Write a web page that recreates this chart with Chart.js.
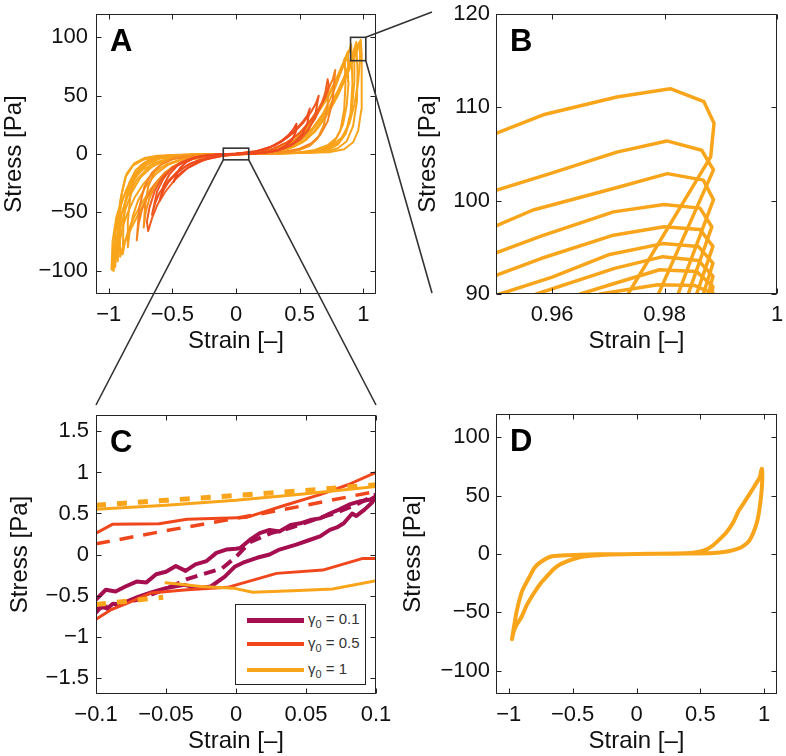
<!DOCTYPE html>
<html>
<head>
<meta charset="utf-8">
<script src="https://cdn.jsdelivr.net/npm/chart.js@4.4.0/dist/chart.umd.min.js"></script>
<style>
  html, body { margin: 0; padding: 0; background: #fff; }
  #fig { position: relative; width: 786px; height: 756px; font-family: 'Liberation Sans', Arial, Helvetica, sans-serif; }
  .panel { position: absolute; width: 393px; height: 378px; }
  #overlay { position: absolute; left: 0; top: 0; pointer-events: none; }
  #legendC { position: absolute; left: 235px; top: 604px; width: 129px; height: 79px; border: 1px solid #222; background: #fff; color: #333; font-size: 15px; }
  #legendC .row { position: absolute; left: 11px; height: 20px; display: flex; align-items: center; white-space: nowrap; }
  #legendC .swatch { width: 57px; margin-right: 4px; }
  #legendC sub { font-size: 11px; }
</style>
</head>
<body>
<div id="fig">
  <canvas id="panelA" class="panel" width="393" height="378" style="left:0;top:0"></canvas>
  <canvas id="panelB" class="panel" width="393" height="378" style="left:393px;top:0"></canvas>
  <canvas id="panelC" class="panel" width="393" height="378" style="left:0;top:378px"></canvas>
  <canvas id="panelD" class="panel" width="393" height="378" style="left:393px;top:378px"></canvas>
  <div id="legendC">
    <div class="row" style="top:5px"><div class="swatch" style="height:5px;background:#a50f4f"></div><span>γ<sub>0</sub> = 0.1</span></div>
    <div class="row" style="top:29px"><div class="swatch" style="height:3.5px;background:#f0461c"></div><span>γ<sub>0</sub> = 0.5</span></div>
    <div class="row" style="top:55px"><div class="swatch" style="height:4px;background:#f9a51b"></div><span>γ<sub>0</sub> = 1</span></div>
  </div>
  <canvas id="overlay" width="786" height="756"></canvas>
</div>
<script>
// ---- data: [strain, stress] pairs ----

// panel A: amplitude sweep, one closed loop per cycle (small -> large)
const loopA1 = [[-0.49,-24],[-0.47,-20],[-0.43,-16],[-0.38,-12],[-0.3,-7],[-0.2,-3.5],[-0.1,-1.2],[0,-0.3],[0.15,0.4],[0.25,1.5],[0.33,3.5],[0.39,7],[0.44,12],[0.47,19],[0.475,26],
  [0.45,21],[0.41,16],[0.36,11.5],[0.28,6.5],[0.15,2],[0,0.3],[-0.15,-0.4],[-0.25,-1.5],[-0.33,-3.5],[-0.39,-7],[-0.44,-12],[-0.47,-18],[-0.49,-24]];
const loopA2 = [[-0.6,-40],[-0.57,-31],[-0.53,-24],[-0.47,-17],[-0.4,-11],[-0.3,-5.5],[-0.15,-1.5],[0,-0.3],[0.15,0.5],[0.28,2],[0.38,5],[0.46,10],[0.52,17],[0.56,26],[0.58,39],
  [0.56,33],[0.52,27],[0.46,20],[0.4,14],[0.3,7],[0.15,2],[0,0.3],[-0.15,-0.5],[-0.28,-2],[-0.38,-5],[-0.46,-10],[-0.52,-17],[-0.57,-27],[-0.6,-40]];
const loopA3 = [[-0.66,-52],[-0.635,-42],[-0.6,-33],[-0.54,-24],[-0.46,-15],[-0.36,-8],[-0.22,-3],[0,-0.3],[0.2,0.8],[0.33,3],[0.43,7],[0.51,13],[0.57,21],[0.62,32],[0.65,50],
  [0.63,44],[0.59,36],[0.53,27],[0.45,18],[0.35,10],[0.22,3.5],[0,0.3],[-0.2,-0.8],[-0.33,-3],[-0.43,-7],[-0.51,-13],[-0.57,-21],[-0.62,-32],[-0.66,-52]];
const loopA4 = [[-0.69,-66],[-0.66,-55],[-0.62,-44],[-0.56,-33],[-0.48,-22],[-0.38,-12],[-0.25,-5],[-0.1,-1.5],[0.1,0.3],[0.25,1.5],[0.38,5],[0.48,11],[0.56,20],[0.62,30],[0.67,42],[0.7,52],[0.72,64],
  [0.73,58],[0.7,48],[0.65,38],[0.58,28],[0.5,18],[0.4,10],[0.28,4],[0.1,1],[-0.1,-0.3],[-0.28,-2],[-0.4,-6],[-0.5,-12],[-0.58,-20],[-0.64,-32],[-0.68,-46],[-0.7,-58],[-0.69,-66]];
const loopA5 = [[-0.725,-63],[-0.71,-50],[-0.68,-38],[-0.64,-28],[-0.58,-19],[-0.5,-11],[-0.4,-5.5],[-0.25,-2],[0,-0.2],[0.25,0.5],[0.4,1.5],[0.5,3.5],[0.58,7],[0.64,13],[0.69,25],[0.72,42],[0.725,58],
  [0.7,50],[0.66,40],[0.6,29],[0.53,19],[0.45,11],[0.35,5],[0.2,1.5],[0,0.2],[-0.25,-0.5],[-0.4,-1.5],[-0.5,-3.5],[-0.58,-8],[-0.64,-15],[-0.69,-28],[-0.715,-45],[-0.725,-63]];
const loopA6 = [[-0.78,-74],[-0.765,-60],[-0.74,-48],[-0.7,-37],[-0.64,-26],[-0.56,-16],[-0.46,-9],[-0.33,-4],[-0.15,-1],[0,-0.1],[0.2,0.5],[0.38,2],[0.5,4.5],[0.59,9],[0.66,16],[0.72,28],[0.76,46],[0.78,72],
  [0.76,64],[0.72,54],[0.67,43],[0.6,31],[0.52,20],[0.42,11],[0.3,4.5],[0.15,1.2],[0,0.1],[-0.2,-0.5],[-0.38,-2],[-0.5,-4.5],[-0.59,-9],[-0.66,-16],[-0.72,-28],[-0.76,-46],[-0.78,-74]];
const loopA7 = [[-0.85,-80],[-0.835,-66],[-0.81,-53],[-0.77,-40],[-0.71,-28],[-0.63,-17],[-0.53,-9],[-0.4,-4],[-0.2,-1],[0,-0.1],[0.3,0.4],[0.5,1],[0.62,2.5],[0.7,5],[0.77,10],[0.82,20],[0.85,38],[0.86,60],[0.855,82],
  [0.83,72],[0.79,60],[0.74,47],[0.68,34],[0.6,22],[0.5,12],[0.4,6],[0.2,1.5],[0,0.1],[-0.3,-0.4],[-0.5,-1],[-0.6,-2.5],[-0.68,-5],[-0.75,-10],[-0.8,-20],[-0.83,-36],[-0.85,-58],[-0.85,-80]];
const loopA8 = [[-0.89,-86],[-0.87,-74],[-0.84,-64],[-0.8,-54],[-0.74,-42],[-0.67,-30],[-0.58,-19],[-0.48,-10],[-0.35,-4.5],[-0.2,-1.5],[0,-0.2],[0.3,0.5],[0.5,1.5],[0.62,3.5],[0.72,7.5],[0.79,14],[0.84,25],[0.87,42],[0.885,62],[0.88,88],
  [0.85,80],[0.81,70],[0.76,58],[0.7,46],[0.63,34],[0.55,22],[0.45,11],[0.33,4.5],[0.2,1.5],[0,0.2],[-0.3,-0.5],[-0.5,-1.5],[-0.62,-3.5],[-0.72,-7.5],[-0.79,-14],[-0.84,-25],[-0.87,-42],[-0.885,-62],[-0.89,-86]];
const loopA9 = [[-0.91,-88],[-0.89,-80],[-0.86,-72],[-0.82,-63],[-0.76,-50],[-0.7,-38],[-0.62,-25],[-0.55,-17],[-0.45,-8],[-0.35,-4],[-0.2,-1.2],[0,-0.2],[0.3,0.3],[0.5,0.8],[0.62,1.5],[0.72,3.5],[0.8,8],[0.86,17],[0.9,35],[0.915,60],[0.905,94],
  [0.87,82],[0.83,72],[0.79,63],[0.72,48],[0.66,38],[0.6,28],[0.55,20],[0.45,9],[0.35,4],[0.2,1.2],[0,0.2],[-0.3,-0.3],[-0.5,-0.8],[-0.62,-1.5],[-0.72,-3.5],[-0.8,-8],[-0.86,-17],[-0.9,-35],[-0.915,-60],[-0.91,-88]];
const loopA10 = [[-0.93,-92],[-0.915,-76],[-0.89,-62],[-0.85,-50],[-0.8,-38],[-0.73,-26],[-0.65,-16],[-0.55,-9],[-0.42,-4],[-0.25,-1.2],[0,-0.2],[0.3,0.4],[0.5,1],[0.63,2.5],[0.73,5],[0.81,10],[0.87,20],[0.91,38],[0.93,62],[0.93,90],
  [0.9,80],[0.85,66],[0.8,54],[0.74,42],[0.67,30],[0.58,18],[0.48,9],[0.35,3.5],[0.2,1],[0,0.1],[-0.3,-0.4],[-0.5,-1],[-0.63,-2.5],[-0.73,-5],[-0.81,-10],[-0.87,-20],[-0.91,-40],[-0.93,-62],[-0.93,-92]];
const loopA11 = [[-0.95,-97],[-0.935,-80],[-0.91,-64],[-0.87,-48],[-0.82,-33],[-0.75,-20],[-0.66,-11],[-0.55,-5],[-0.4,-2],[-0.2,-0.6],[0,-0.1],[0.3,0.4],[0.55,1],[0.7,2],[0.8,5],[0.87,11],[0.92,24],[0.95,45],[0.955,70],[0.945,96],
  [0.92,86],[0.88,74],[0.83,60],[0.77,46],[0.7,32],[0.62,20],[0.52,10],[0.4,4],[0.2,1],[0,0.1],[-0.3,-0.6],[-0.48,-1.5],[-0.6,-4],[-0.7,-9],[-0.78,-18],[-0.85,-33],[-0.9,-52],[-0.935,-72],[-0.95,-97]];
const loopA12 = [[-0.965,-100],[-0.96,-80],[-0.945,-64],[-0.92,-50],[-0.88,-36],[-0.82,-24],[-0.74,-14],[-0.64,-7.5],[-0.5,-3],[-0.3,-1],[0,-0.1],[0.3,0.4],[0.5,1.2],[0.65,3],[0.75,7],[0.83,14],[0.89,26],[0.93,42],[0.96,62],[0.975,82],[0.97,96],
  [0.95,92],[0.92,84],[0.88,72],[0.83,58],[0.77,44],[0.7,31],[0.62,19],[0.52,10],[0.4,4],[0.2,1],[0,0.1],[-0.3,-0.5],[-0.5,-1.5],[-0.62,-4],[-0.72,-9],[-0.8,-18],[-0.86,-30],[-0.91,-46],[-0.945,-66],[-0.96,-84],[-0.965,-100]];
const loopA13 = [[-0.97,-99],[-0.955,-85],[-0.93,-68],[-0.9,-52],[-0.85,-36],[-0.78,-22],[-0.7,-13],[-0.6,-7],[-0.45,-3],[-0.25,-1],[0,-0.2],[0.3,0.5],[0.55,1],[0.73,1.5],[0.85,4],[0.92,10],[0.96,20],[0.985,38],[0.99,60],[0.985,85],[0.98,98],
  [0.95,88],[0.9,75],[0.85,62],[0.8,50],[0.72,35],[0.64,22],[0.55,12],[0.45,6],[0.3,2],[0,0.3],[-0.3,-0.5],[-0.44,-0.8],[-0.55,-1.5],[-0.63,-4],[-0.7,-8],[-0.76,-14],[-0.82,-22],[-0.86,-31],[-0.9,-40],[-0.94,-54],[-0.97,-75],[-0.978,-99]];

// panel B: tops of the large loops, strain 0.95 .. 1
const peakB1 = [[0.95,107.2],[0.9584,109.2],[0.9715,111.1],[0.981,112.0],[0.987,110.6],[0.9888,108.3],[0.9882,104.7],[0.9735,90]];
const peakB2 = [[0.95,101.1],[0.9596,102.9],[0.9715,105.2],[0.9804,106.4],[0.9866,105.4],[0.9887,103.3],[0.9789,90]];
const peakB3 = [[0.95,97.3],[0.9566,99.0],[0.9709,101.3],[0.9805,102.9],[0.9869,102.2],[0.9887,100.1],[0.9824,90]];
const peakB4 = [[0.95,94.4],[0.958,96.2],[0.9709,98.8],[0.9799,99.6],[0.9863,99.2],[0.9884,97.2],[0.9842,90]];
const peakB5 = [[0.95,92.0],[0.958,93.8],[0.9709,96.3],[0.9799,97.2],[0.9863,96.9],[0.9886,95.1],[0.9857,90]];
const peakB6 = [[0.9507,90],[0.96,91.8],[0.970,94.2],[0.9797,95.4],[0.986,95.1],[0.9886,93.3],[0.9869,90]];
const peakB7 = [[0.9572,90],[0.9711,92.75],[0.9797,94.0],[0.986,93.6],[0.9886,91.9],[0.9878,90]];
const peakB8 = [[0.965,90],[0.9709,91.1],[0.9791,92.6],[0.9857,92.4],[0.9886,90.8],[0.9884,90]];
const peakB9 = [[0.9685,90],[0.9788,91.0],[0.9854,90.9],[0.9888,90]];

// panel C: small-strain window, measured (solid) and fitted (dashed)
const g01Solid = [[-0.1,-0.55],[-0.093,-0.43],[-0.086,-0.45],[-0.079,-0.39],[-0.071,-0.33],[-0.064,-0.34],[-0.057,-0.24],[-0.05,-0.21],[-0.043,-0.14],[-0.036,-0.2],[-0.029,-0.12],[-0.021,-0.08],[-0.014,0.02],[-0.007,0.06],[0,0.07],[0.003,0.08],[0.01,0.18],[0.017,0.26],[0.024,0.3],[0.031,0.28],[0.039,0.36],[0.046,0.38],[0.053,0.42],[0.06,0.44],[0.067,0.5],[0.074,0.55],[0.081,0.61],[0.089,0.65],[0.096,0.67],[0.1,0.71],
  [0.097,0.63],[0.092,0.55],[0.086,0.47],[0.083,0.5],[0.077,0.38],[0.072,0.33],[0.067,0.3],[0.06,0.22],[0.053,0.18],[0.043,0.12],[0.031,0.06],[0.024,0.0],[0.015,-0.04],[0.005,-0.1],[-0.001,-0.15],[-0.008,-0.27],[-0.018,-0.39],[-0.027,-0.41],[-0.037,-0.37],[-0.05,-0.41],[-0.06,-0.46],[-0.069,-0.51],[-0.076,-0.56],[-0.083,-0.61],[-0.088,-0.6],[-0.092,-0.66],[-0.096,-0.63],[-0.1,-0.71]];
const g01Fit = [[-0.1,-0.66],[-0.09,-0.63],[-0.07,-0.55],[-0.05,-0.42],[-0.035,-0.3],[-0.02,-0.22],[-0.01,-0.17],[0,-0.03],[0.01,0.15],[0.025,0.26],[0.04,0.33],[0.055,0.42],[0.07,0.5],[0.085,0.6],[0.1,0.73]];
const g05Upper = [[-0.1,0.26],[-0.088,0.37],[-0.055,0.375],[-0.035,0.43],[0.007,0.45],[0.035,0.6],[0.06,0.73],[0.08,0.85],[0.1,1.0]];
const g05Lower = [[-0.1,-0.79],[-0.089,-0.67],[-0.077,-0.59],[-0.061,-0.47],[-0.035,-0.43],[-0.006,-0.4],[0.029,-0.23],[0.062,-0.19],[0.09,-0.05],[0.1,-0.05]];
const g05Fit = [[-0.1,0.13],[-0.05,0.29],[0,0.44],[0.05,0.6],[0.1,0.77]];
const g1Upper = [[-0.1,0.55],[-0.05,0.6],[0,0.66],[0.05,0.74],[0.1,0.83]];
const g1Lower = [[-0.05,-0.345],[-0.025,-0.39],[-0.002,-0.41],[0.012,-0.46],[0.045,-0.44],[0.069,-0.42],[0.1,-0.32]];
const g1FitUpper = [[-0.1,0.6],[-0.05,0.66],[0,0.72],[0.05,0.78],[0.1,0.85]];
const g1FitLower = [[-0.1,-0.61],[-0.052,-0.52]];

// panel D: single loop
const loopD = [[-0.975,-73],[-0.96,-66],[-0.935,-60],[-0.9,-54],[-0.86,-44],[-0.8,-33],[-0.75,-25],[-0.7,-19],[-0.65,-13],[-0.6,-9],[-0.55,-6.5],[-0.5,-4.5],[-0.4,-2],[-0.3,-1],[-0.2,-0.5],[0,0],[0.2,0.2],[0.4,0.4],[0.57,0.6],[0.65,1.3],[0.73,2.6],[0.8,4.8],[0.835,6.8],[0.88,11],[0.914,18],[0.945,28],[0.966,41],[0.98,55],[0.985,66],[0.982,73],
  [0.975,71],[0.966,66],[0.94,61],[0.9,54],[0.86,47],[0.8,37],[0.757,27],[0.7,18],[0.65,12.5],[0.6,7.5],[0.55,4],[0.5,2.2],[0.44,1.1],[0.3,0.5],[0,0],[-0.3,-0.3],[-0.44,-0.6],[-0.55,-1],[-0.65,-1.8],[-0.7,-3.5],[-0.757,-7.4],[-0.8,-12],[-0.835,-19],[-0.87,-26],[-0.9,-33],[-0.94,-50],[-0.966,-67],[-0.975,-73]];

// axis ticks
const ticksWide = [-1, -0.5, 0, 0.5, 1];
const ticksStress = [-100, -50, 0, 50, 100];
const ticksStrainB = [0.96, 0.98, 1];
const ticksStressB = [90, 100, 110, 120];
const ticksStrainC = [-0.1, -0.05, 0, 0.05, 0.1];
const ticksStressC = [-1.5, -1, -0.5, 0, 0.5, 1, 1.5];

// zoom rectangles drawn in A: [xmin, xmax, ymin, ymax]
const zoomBoxB = [0.9, 1.02, 80, 100];
const zoomBoxC = [-0.1, 0.1, -5, 5];

// ---- drawing ----
const FONT = "'Liberation Sans', Arial, Helvetica, sans-serif";
Chart.defaults.font.family = FONT;
Chart.defaults.color = '#111';

const PURPLE = '#a50f4f', RED = '#f0461c', ORANGE = '#f9a51b';
const loopColorsA = ['#ee471e', '#ef4f1f', '#ef5720', '#f05e20', '#f6911d', '#f5821e', '#f89f1c',
  ORANGE, ORANGE, ORANGE, ORANGE, ORANGE, ORANGE];

const pts = arr => arr.map(([x, y]) => ({x, y}));
const fmt = v => String(+(+v).toFixed(4)).replace('-', '\u2212');

function line(arr, color, width, dash, tension) {
  return {
    data: pts(arr), showLine: true, borderColor: color, backgroundColor: color,
    borderWidth: width, pointRadius: 0, tension: tension || 0, clip: 0,
    borderDash: dash || [], borderJoinStyle: 'round', borderCapStyle: dash ? 'butt' : 'round'
  };
}

function scaleCfg(min, max, tickVals, title, o) {
  return {
    type: 'linear', min, max,
    grid: {display: false, drawTicks: false},
    border: {display: false},
    afterBuildTicks: s => { s.ticks = tickVals.map(v => ({value: v})); },
    afterFit: s => {
      if (o.width) s.width = o.width;
      if (o.height) s.height = o.height;
      s.paddingTop = 0; s.paddingBottom = 0; s.paddingLeft = 0; s.paddingRight = 0;
    },
    ticks: {padding: o.tickPad, font: {size: 22}, color: '#111', callback: v => fmt(v), maxRotation: 0, autoSkip: false},
    title: {display: true, text: title, font: {size: 24}, color: '#111', padding: o.titlePad}
  };
}

const framePlugin = {
  id: 'frame',
  afterDatasetsDraw(chart, args, o) {
    const {ctx, chartArea: a, scales} = chart;
    const L = Math.round(a.left) + 0.5, R = Math.round(a.right) - 0.5;
    const T = Math.round(a.top) + 0.5, B = Math.round(a.bottom) - 0.5;
    ctx.save();
    ctx.strokeStyle = '#222';
    ctx.lineWidth = 1;
    ctx.beginPath();
    scales.x.ticks.forEach(t => {
      const px = Math.round(scales.x.getPixelForValue(t.value)) + 0.5;
      ctx.moveTo(px, B); ctx.lineTo(px, B - 5);
      ctx.moveTo(px, T); ctx.lineTo(px, T + 5);
    });
    scales.y.ticks.forEach(t => {
      const py = Math.round(scales.y.getPixelForValue(t.value)) + 0.5;
      ctx.moveTo(L, py); ctx.lineTo(L + 5, py);
      ctx.moveTo(R, py); ctx.lineTo(R - 5, py);
    });
    ctx.stroke();
    ctx.strokeRect(L, T, R - L, B - T);
    (o.boxes || []).forEach(b => {
      const x0 = scales.x.getPixelForValue(b[0]), x1 = scales.x.getPixelForValue(b[1]);
      const y0 = scales.y.getPixelForValue(b[2]), y1 = scales.y.getPixelForValue(b[3]);
      ctx.strokeStyle = '#333';
      ctx.lineWidth = 1.6;
      ctx.strokeRect(x0, y1, x1 - x0, y0 - y1);
    });
    ctx.fillStyle = '#000';
    ctx.font = 'bold 31px ' + FONT;
    ctx.textBaseline = 'alphabetic';
    ctx.fillText(o.letter, a.left + 14, a.top + 37);
    ctx.restore();
  }
};

function makePanel(id, datasets, xs, ys, pad, letter, boxes) {
  return new Chart(document.getElementById(id), {
    type: 'scatter',
    data: {datasets},
    options: {
      responsive: false, animation: false, devicePixelRatio: 1,
      layout: {padding: pad},
      plugins: {legend: {display: false}, tooltip: {enabled: false}, frame: {letter, boxes}},
      scales: {x: xs, y: ys}
    },
    plugins: [framePlugin]
  });
}

// first dataset is painted last, so the small red loops stay on top
const loopsA = [loopA1, loopA2, loopA3, loopA4, loopA5, loopA6, loopA7, loopA8, loopA9, loopA10, loopA11, loopA12, loopA13];

const chartA = makePanel('panelA',
  loopsA.map((l, i) => line(l, loopColorsA[i], 2)),
  scaleCfg(-1.1, 1.1, ticksWide, 'Strain [\u2013]', {height: 62, tickPad: 8, titlePad: {top: 0, bottom: 0}}),
  scaleCfg(-120, 120, ticksStress, 'Stress [Pa]', {width: 96, tickPad: 8, titlePad: {top: 0, bottom: 0}}),
  {left: 0, top: 14, right: 17, bottom: 22}, 'A', [zoomBoxB, zoomBoxC]);

const chartB = makePanel('panelB',
  [peakB1, peakB2, peakB3, peakB4, peakB5, peakB6, peakB7, peakB8, peakB9].map(c => line(c, ORANGE, 3.5)),
  scaleCfg(0.95, 1, ticksStrainB, 'Strain [\u2013]', {height: 62, tickPad: 8, titlePad: {top: 0, bottom: 0}}),
  scaleCfg(90, 120, ticksStressB, 'Stress [Pa]', {width: 103, tickPad: 6, titlePad: {top: 21, bottom: 0}}),
  {left: 0, top: 14, right: 9, bottom: 22}, 'B');

const chartC = makePanel('panelC', [
    line(g1Upper, ORANGE, 3), line(g1Lower, ORANGE, 3),
    line(g1FitUpper, ORANGE, 5, [10, 11]), line(g1FitLower, ORANGE, 5, [10, 11]),
    line(g05Upper, RED, 3), line(g05Lower, RED, 3), line(g05Fit, RED, 3.5, [14, 10]),
    line(g01Solid, PURPLE, 4), line(g01Fit, PURPLE, 4, [12, 7])
  ],
  scaleCfg(-0.1, 0.1, ticksStrainC, 'Strain [\u2013]', {height: 62, tickPad: 8, titlePad: {top: 0, bottom: 0}}),
  scaleCfg(-1.7, 1.7, ticksStressC, 'Stress [Pa]', {width: 96, tickPad: 7, titlePad: {top: 6, bottom: 0}}),
  {left: 0, top: 37, right: 17, bottom: 0}, 'C');

const chartD = makePanel('panelD', [line(loopD, ORANGE, 4, null, 0.2)],
  scaleCfg(-1.1, 1.1, ticksWide, 'Strain [\u2013]', {height: 62, tickPad: 8, titlePad: {top: 0, bottom: 0}}),
  scaleCfg(-120, 120, ticksStress, 'Stress [Pa]', {width: 103, tickPad: 6, titlePad: {top: 6, bottom: 0}}),
  {left: 0, top: 36, right: 9, bottom: 0}, 'D');

// connector lines from the zoom boxes in A to panels B and C
(function drawConnectors() {
  const ctx = document.getElementById('overlay').getContext('2d');
  const ax = chartA.scales.x, ay = chartA.scales.y;
  const bA = chartB.chartArea, cA = chartC.chartArea;
  ctx.strokeStyle = '#333';
  ctx.lineWidth = 1.6;
  ctx.beginPath();
  ctx.moveTo(ax.getPixelForValue(zoomBoxB[1]), ay.getPixelForValue(zoomBoxB[3]));
  ctx.lineTo(393 + bA.left - 64, bA.top - 2);
  ctx.moveTo(ax.getPixelForValue(zoomBoxB[1]), ay.getPixelForValue(zoomBoxB[2]));
  ctx.lineTo(393 + bA.left - 64, bA.bottom - 1);
  ctx.moveTo(ax.getPixelForValue(zoomBoxC[0]), ay.getPixelForValue(zoomBoxC[2]));
  ctx.lineTo(cA.left, 378 + cA.top - 10);
  ctx.moveTo(ax.getPixelForValue(zoomBoxC[1]), ay.getPixelForValue(zoomBoxC[2]));
  ctx.lineTo(cA.right, 378 + cA.top - 10);
  ctx.stroke();
})();
</script>
</body>
</html>
